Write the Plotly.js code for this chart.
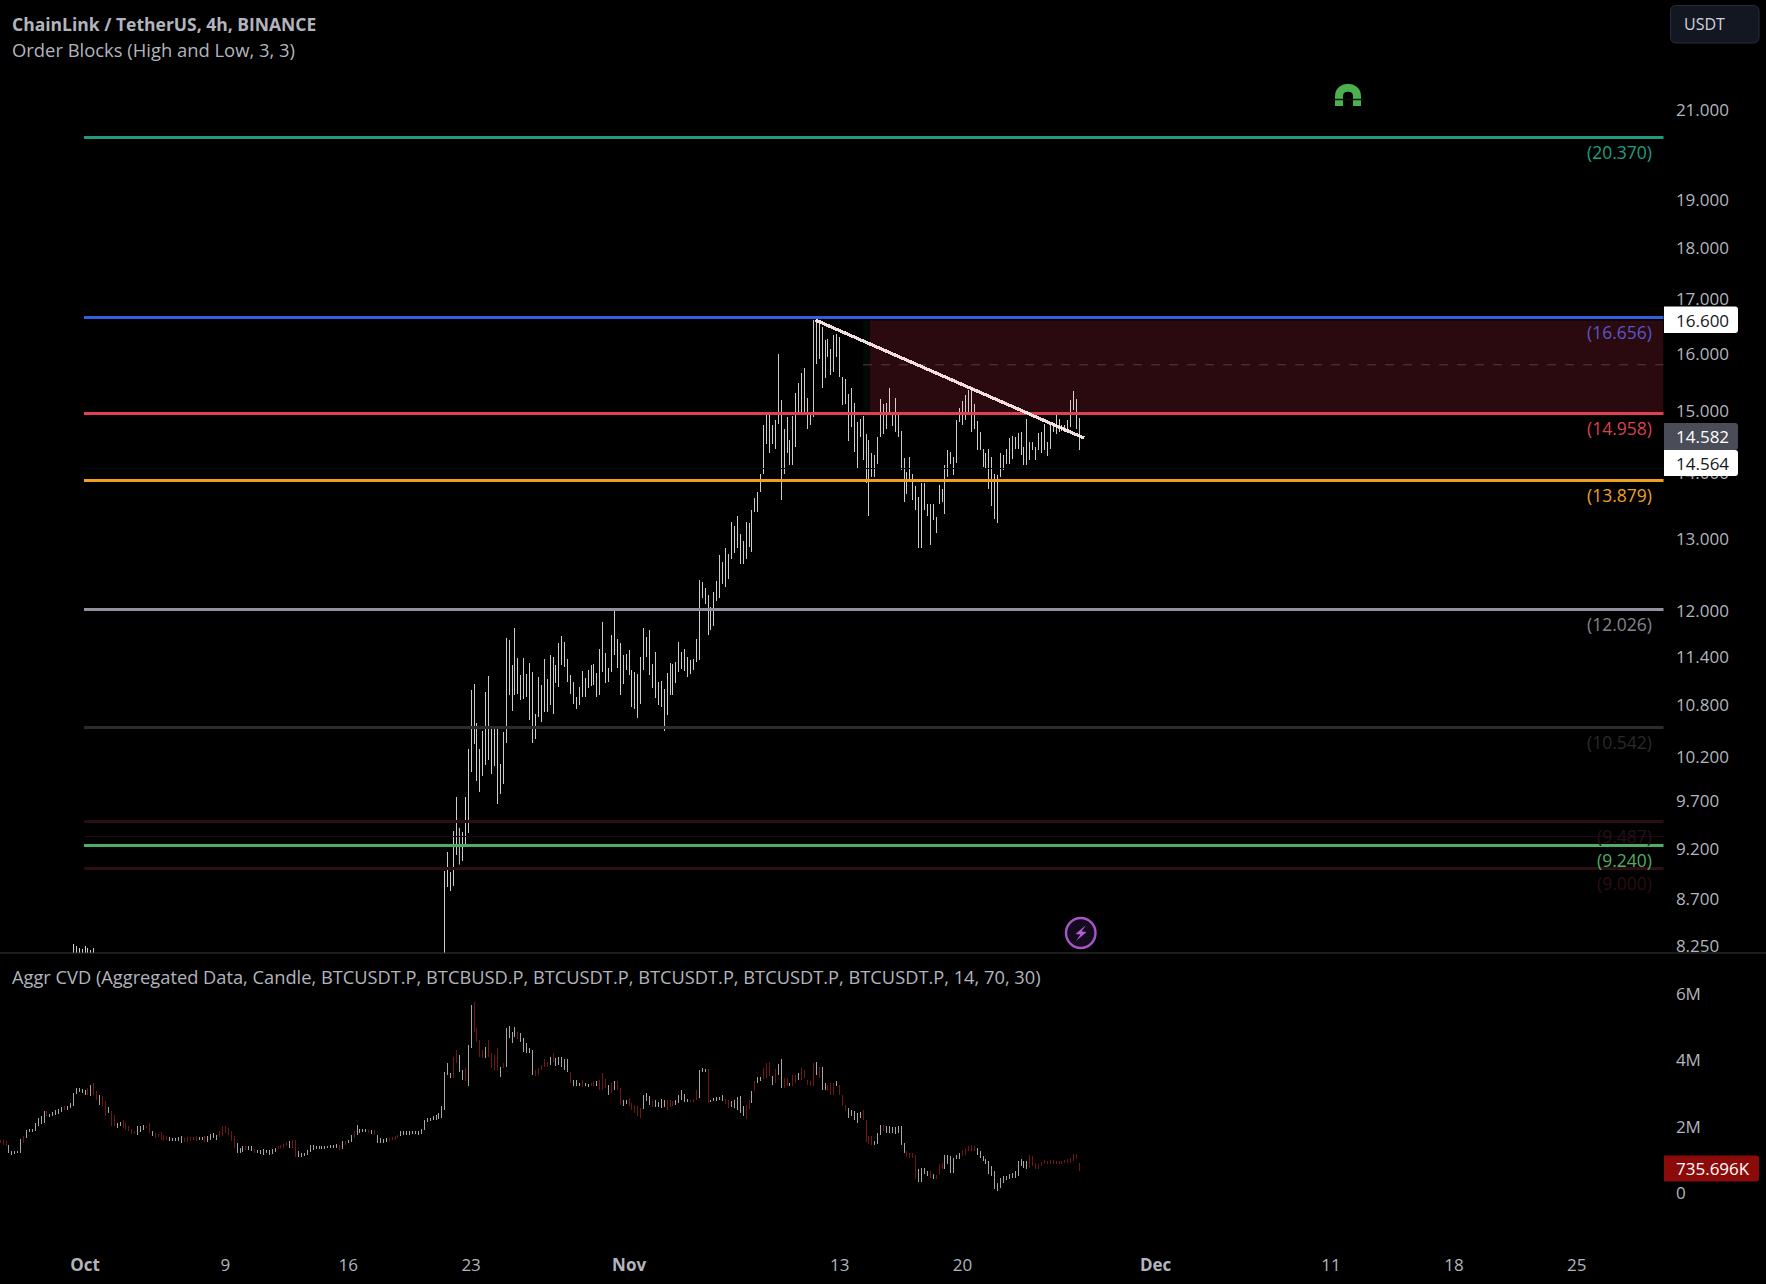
<!DOCTYPE html>
<html>
<head>
<meta charset="utf-8">
<script src="https://cdn.plot.ly/plotly-3.0.1.min.js"></script>
<style>html,body{margin:0;padding:0;background:#000;overflow:hidden}#chart{width:1766px;height:1284px}</style>
</head>
<body>
<div id="chart"></div>
<script>
// ---- data ----
const priceHigh = [8.98,9.17,8.97,9.39,9.75,9.42,9.38,9.75,10.29,10.99,11.06,10.59,10.29,10.49,10.96,11.16,10.56,10.55,10.52,10.11,
10.48,11.65,11.62,11.30,11.78,11.39,11.17,11.39,11.19,11.33,11.21,10.70,11.15,11.05,11.38,11.12,11.43,11.40,11.30,11.58,
11.67,11.59,11.38,11.17,11.09,10.90,11.03,11.22,11.13,11.24,11.30,11.31,11.20,11.50,11.86,11.45,11.26,11.68,12.02,11.63,
11.58,11.43,11.44,11.49,11.24,11.21,11.19,11.40,11.78,11.66,11.75,11.31,11.46,11.09,11.10,11.00,11.20,11.33,11.31,11.34,
11.59,11.47,11.50,11.40,11.36,11.38,11.63,12.43,12.40,12.32,12.22,12.06,12.26,12.41,12.77,12.67,12.87,12.79,13.25,13.19,
13.34,13.08,12.97,13.26,13.24,13.43,13.62,13.71,13.98,14.78,14.98,14.99,14.77,14.85,15.99,15.19,14.71,14.91,14.52,14.92,
15.31,15.49,15.65,15.74,15.22,14.96,16.61,16.61,16.55,16.49,16.24,16.27,16.09,16.33,16.36,16.30,15.59,15.56,15.29,15.39,
15.14,14.82,14.88,14.92,14.63,14.52,14.31,14.28,14.57,15.20,15.13,15.14,15.39,14.99,15.22,14.96,14.68,14.24,14.02,14.25,
13.99,13.80,13.63,13.84,13.84,13.53,13.53,13.52,13.33,13.81,13.76,14.12,14.36,14.34,14.25,14.85,15.05,15.18,15.28,15.36,
15.39,15.13,14.84,14.66,14.39,14.31,14.39,14.25,13.99,13.97,14.31,14.28,14.39,14.56,14.60,14.58,14.64,14.66,14.41,14.88,
14.49,14.49,14.41,14.64,14.66,14.79,14.49,14.77,14.79,14.96,14.88,14.77,14.78,14.86,15.19,15.35,15.21,14.89];
const priceLow = [7.90,8.82,8.78,8.83,9.14,9.04,9.08,9.22,9.36,10.03,10.34,9.92,9.80,9.98,10.10,10.16,10.00,10.09,9.67,9.78,
9.89,10.35,10.92,10.73,10.92,10.94,10.86,10.88,10.90,10.62,10.35,10.40,10.66,10.60,10.72,10.72,10.81,10.70,11.07,11.03,
11.30,11.27,11.09,10.94,10.82,10.76,10.80,10.90,10.90,11.01,11.04,11.05,10.90,10.92,11.21,11.07,11.09,11.21,11.43,11.26,
10.92,11.06,11.24,11.17,10.78,10.76,10.65,10.82,11.24,11.40,11.17,11.01,10.89,10.80,10.78,10.49,10.68,10.92,10.92,11.07,
11.21,11.25,11.22,11.15,11.19,11.23,11.34,11.36,12.17,12.10,11.68,11.75,11.80,12.13,12.17,12.37,12.33,12.44,12.72,12.80,
12.87,12.65,12.65,12.72,12.89,12.82,13.40,13.40,13.71,13.99,14.47,14.31,14.47,14.39,14.79,13.58,13.99,14.31,14.12,14.12,
14.41,14.97,14.96,14.96,14.71,14.77,14.91,15.82,15.91,15.39,15.57,15.94,15.62,15.67,15.94,15.59,15.10,15.13,14.51,14.74,
14.34,14.07,14.57,14.21,13.84,13.35,13.94,13.94,14.15,14.57,14.63,14.71,14.96,14.75,14.66,14.57,14.05,13.55,13.68,13.86,
13.58,13.43,12.87,12.87,13.43,13.35,12.92,13.28,13.09,13.53,13.55,13.38,13.94,14.15,13.97,14.16,14.82,14.77,14.85,14.96,
14.66,14.71,14.36,14.36,14.10,14.08,13.76,13.50,13.30,13.24,13.94,14.05,14.15,14.15,14.23,14.39,14.39,14.28,14.12,14.12,
14.20,14.36,14.20,14.36,14.31,14.36,14.27,14.39,14.66,14.63,14.66,14.68,14.66,14.68,14.74,15.02,14.71,14.36];
const earlyHigh = [8.27,8.25,8.24,8.23,8.25,8.24,8.22,8.24];
const earlyLow  = [8.05,8.06,8.04,8.05,8.07,8.05,8.04,8.06];

const cvdHigh = [1.61,1.59,1.56,1.46,1.26,1.26,1.26,1.63,1.73,1.89,1.93,1.93,2.11,2.26,2.31,2.46,2.46,2.39,2.43,2.49,
2.53,2.59,2.63,2.63,2.71,3.01,3.16,3.16,3.13,3.11,3.16,3.26,3.31,3.06,2.96,2.91,2.76,2.59,2.46,2.36,
2.11,2.13,2.19,2.11,2.01,1.93,1.86,2.01,2.03,2.06,2.03,2.11,1.88,1.81,1.79,1.83,1.76,1.71,1.68,1.66,
1.66,1.69,1.71,1.66,1.69,1.69,1.69,1.71,1.69,1.69,1.71,1.73,1.79,1.81,1.76,1.86,2.01,2.01,1.96,1.86,
1.71,1.51,1.36,1.41,1.43,1.41,1.41,1.33,1.31,1.31,1.33,1.31,1.31,1.33,1.36,1.43,1.46,1.49,1.53,1.56,
1.59,1.61,1.26,1.21,1.21,1.31,1.46,1.46,1.41,1.43,1.41,1.43,1.43,1.46,1.46,1.49,1.46,1.56,1.56,1.61,
1.76,1.86,2.06,1.93,1.93,1.93,1.91,1.89,1.91,1.76,1.66,1.63,1.66,1.66,1.69,1.71,1.76,1.86,1.86,1.86,
1.86,1.86,1.86,1.86,1.93,2.21,2.26,2.26,2.31,2.36,2.41,2.63,3.66,3.91,3.61,4.09,4.31,4.16,3.71,3.76,
4.46,5.66,5.76,4.96,4.61,4.31,4.41,4.61,4.21,4.16,4.36,3.81,3.91,4.96,5.03,4.86,5.01,4.86,4.81,4.66,
4.51,4.36,4.31,3.71,3.76,
3.86,4.03,3.96,4.09,4.23,4.06,4.11,4.11,4.03,4.03,3.66,3.39,3.39,3.31,3.39,3.31,3.29,3.31,3.36,3.38,
3.39,3.61,3.43,3.26,3.31,3.38,3.36,3.16,2.81,2.81,2.86,2.71,2.66,2.63,2.56,2.96,3.01,2.93,2.76,2.81,
2.73,2.83,2.81,2.81,2.81,2.76,2.81,2.96,3.09,2.99,2.83,2.81,2.83,3.09,3.71,3.76,3.74,3.73,2.81,2.86,
2.89,2.89,2.96,2.83,2.81,2.76,2.81,2.89,2.91,2.63,2.66,2.81,3.06,3.36,3.49,3.49,3.76,3.91,3.96,3.51,
3.73,3.89,4.03,3.46,3.46,3.31,3.56,3.56,3.63,3.76,3.71,3.41,3.36,3.91,3.96,3.81,3.81,3.31,3.26,3.31,
3.31,3.36,3.26,2.96,2.66,2.56,2.51,2.46,2.41,2.43,2.51,2.21,1.71,1.71,1.56,1.81,2.06,2.06,2.01,2.01,
1.99,1.99,2.03,2.03,1.51,1.26,1.21,1.21,1.16,0.71,0.76,0.76,0.66,0.66,0.56,0.53,0.86,0.89,1.13,1.16,
1.11,1.06,1.16,1.21,1.29,1.36,1.43,1.46,1.41,1.36,1.26,1.11,1.01,0.96,0.81,0.66,0.31,0.46,0.51,0.51,
0.56,0.61,0.66,0.96,1.01,0.96,0.96,1.16,1.11,0.91,0.86,0.93,0.98,0.96,0.98,0.99,0.96,0.96,0.96,0.98,
1.01,1.06,1.18,1.19,0.91];
const cvdLow = [1.51,1.46,1.41,1.21,1.16,1.19,1.21,1.21,1.51,1.66,1.83,1.85,1.86,2.01,2.09,2.11,2.31,2.29,2.33,2.36,
2.39,2.43,2.49,2.51,2.55,2.63,2.99,3.03,3.01,2.96,2.96,2.93,2.96,2.81,2.66,2.61,2.31,2.41,2.01,2.01,
1.96,2.01,1.96,1.91,1.86,1.79,1.79,1.76,1.83,1.91,1.96,1.81,1.71,1.66,1.69,1.61,1.56,1.59,1.56,1.56,
1.58,1.56,1.51,1.53,1.53,1.56,1.59,1.56,1.61,1.59,1.53,1.55,1.61,1.66,1.61,1.69,1.71,1.81,1.76,1.56,
1.36,1.21,1.21,1.23,1.31,1.31,1.26,1.21,1.21,1.19,1.16,1.21,1.16,1.19,1.23,1.33,1.36,1.36,1.41,1.36,
1.36,1.09,1.09,1.09,1.11,1.16,1.23,1.31,1.33,1.33,1.33,1.33,1.35,1.35,1.35,1.36,1.31,1.33,1.46,1.51,
1.53,1.66,1.76,1.81,1.83,1.83,1.81,1.79,1.76,1.51,1.51,1.51,1.53,1.56,1.59,1.61,1.66,1.71,1.76,1.76,
1.76,1.78,1.78,1.76,1.79,1.89,2.13,2.16,2.19,2.21,2.23,2.26,2.51,3.56,3.46,3.46,3.91,3.66,3.41,3.36,
3.23,4.36,4.86,4.56,4.11,4.06,4.06,4.11,3.76,3.71,3.71,3.49,3.76,3.81,4.66,4.51,4.71,4.63,4.56,4.26,
4.23,4.23,3.56,3.51,3.56,
3.71,3.81,3.81,3.86,3.96,3.83,3.86,3.81,3.71,3.66,3.31,3.21,3.21,3.21,3.19,3.21,3.19,3.23,3.23,3.21,
3.09,3.11,3.16,2.96,3.01,3.11,3.09,2.66,2.61,2.69,2.61,2.51,2.41,2.33,2.25,2.53,2.76,2.66,2.59,2.59,
2.59,2.56,2.59,2.51,2.59,2.63,2.66,2.71,2.81,2.73,2.73,2.73,2.73,2.79,2.86,3.66,3.64,2.71,2.73,2.76,
2.76,2.79,2.76,2.69,2.56,2.59,2.56,2.51,2.41,2.31,2.23,2.53,2.71,3.06,3.31,3.36,3.43,3.46,3.51,3.26,
3.31,3.56,3.16,3.16,3.21,3.21,3.21,3.31,3.41,3.41,3.46,3.26,3.23,3.21,3.56,3.46,3.11,3.11,3.06,2.96,
2.96,3.21,2.96,2.61,2.46,2.26,2.31,2.21,2.11,2.26,2.21,1.53,1.49,1.46,1.46,1.49,1.76,1.86,1.81,1.81,
1.81,1.79,1.81,1.46,1.21,1.09,1.06,1.06,0.41,0.33,0.33,0.56,0.51,0.46,0.41,0.41,0.53,0.71,0.71,0.86,
0.61,0.61,1.01,1.01,1.11,1.16,1.26,1.26,1.26,1.16,1.06,0.96,0.86,0.56,0.51,0.11,0.06,0.16,0.31,0.39,
0.41,0.46,0.46,0.51,0.81,0.76,0.71,0.76,0.81,0.71,0.71,0.81,0.86,0.86,0.86,0.86,0.88,0.86,0.86,0.89,
0.89,0.91,0.96,1.03,0.66];
const cvdDir = "rrrwwwwwrwwwwwwwrwwwwwrwwwwwwwrwrrwrrwrrwwrrrrrwwwrrwrrrrrwwwwwrrrrrwwrwwwwrrrrrrwwwrwwrwwwwwwwrrrrwrrwwwwwwwwwwwwwwrwrwwrwwwwrwrwwwwrrrrwwwwwwwwwwwwwwwwwwrrwwrwwrrrrwrrrrwrww"
 + "w"
 + "wrwwwwwrrrrrwrwwwwwrwwwrwwrrwrrrwrwrrwwrrrrrwwwrwwwwrrrwwwwwrrrwwwrwwwwwrrwwwwwrrwrwwrrrwrwwrrwrrwrrrrrwrwwrrrwrrrwwwwwrrrrwwwrwwwwwwwrrrrwwwwrwrrrwwwwwwrrrrrwwwwwwwwwwwwwwwwwwrr";

const levelValues = [20.370,16.656,14.958,14.07,13.879,12.026,10.542,9.487,9.33,9.240,9.000];
const levelLabels = ["(20.370)","(16.656)","(14.958)",null,"(13.879)","(12.026)","(10.542)","(9.487)",null,"(9.240)","(9.000)"];
const levelLineColors = ["#22987c","#3060dc","#e0414f","#07071a","#f0a020","#92929e","#2c2c2c","#2e0e16","#1c0a10","#4caf62","#2e0e16"];
const levelTextColors = ["#1f9e80","#5a55c8","#d8434f","#000","#f0a020","#85858f","#2a2a2a","#26101a","#000","#4caf62","#2a0d14"];
const levelWidths = [3,3,3,1,3,3,3,3,1,3,3];

const trendDates = ["2023-11-11T15:00:00Z","2023-11-26T22:00:00Z"];
const trendPrices = [16.61,14.56];
const blockTop = 16.60, blockBottom = 14.958, blockMid = 15.80;
const blockStart = "2023-11-14T17:30:00Z", blockEdgeStart = "2023-11-14T08:00:00Z";

const priceTickVals = [21,19,18,17,16,15,14,13,12,11.4,10.8,10.2,9.7,9.2,8.7,8.25];
const priceTickText = ["21.000","19.000","18.000","17.000","16.000","15.000","14.000","13.000","12.000","11.400","10.800","10.200","9.700","9.200","8.700","8.250"];
const cvdTickVals = [6,4,2,0];
const cvdTickText = ["6M","4M","2M","0"];
const dateTickVals = ["2023-10-01","2023-10-09","2023-10-16","2023-10-23","2023-11-01","2023-11-13","2023-11-20","2023-12-01","2023-12-11","2023-12-18","2023-12-25"];
const dateTickText = ["<b>Oct</b>","9","16","23","<b>Nov</b>","13","20","<b>Dec</b>","11","18","25"];

// ---- helpers ----
const W = 1766, H = 1284, HOUR4 = 4*3600*1000;
const px = x => x/W, py = y => 1-y/H;
const toIso = ms => new Date(ms).toISOString();
const cvdStart = Date.UTC(2023,8,26,4), priceStart = Date.UTC(2023,9,21,12), earlyStart = cvdStart + 25*HOUR4;
const axisStart = Date.UTC(2023,9,1) - 4.843*864e5, axisEnd = Date.UTC(2023,9,1) + 89.94*864e5;
const levelStart = Date.UTC(2023,9,1) - 0.05*864e5;

function segments(start, hi, lo, keep){
  const xs=[], ys=[];
  hi.forEach((h,i)=>{
    if(keep && !keep(i)) return;
    const t = toIso(start + i*HOUR4);
    xs.push(t,t,null); ys.push(lo[i],h,null);
  });
  return {xs,ys};
}
function box(x0,y0,x1,y1,r,fill,line,rl,rr){
  const a = px(x0), b = px(x1), dx = r/W, dy = r/H, t = py(y0), u = py(y1);
  const R = rr===false?0:1, L = rl===false?0:1;
  const path = `M ${a+L*dx} ${t} L ${b-R*dx} ${t} Q ${b} ${t} ${b} ${t-R*dy} L ${b} ${u+R*dy} Q ${b} ${u} ${b-R*dx} ${u} L ${a+L*dx} ${u} Q ${a} ${u} ${a} ${u+L*dy} L ${a} ${t-L*dy} Q ${a} ${t} ${a+L*dx} ${t} Z`;
  return {type:"path",xref:"paper",yref:"paper",path,fillcolor:fill,line:{color:line||fill,width:line?1:0},layer:"above"};
}
function note(text,x,y,size,color,anchor,extra){
  return Object.assign({text,xref:"paper",yref:"paper",x:px(x),y:py(y),xanchor:anchor||"left",yanchor:"middle",showarrow:false,
    font:{family:"'Open Sans',sans-serif",size,color}},extra||{});
}

// ---- traces ----
const traces = [];
const line = (xs,ys,color,width,axis) => ({type:"scatter",mode:"lines",x:xs,y:ys,yaxis:axis||"y",xaxis:"x",
  line:{color,width,simplify:false},connectgaps:false,hoverinfo:"skip",showlegend:false});

const early = segments(earlyStart, earlyHigh, earlyLow);
const main = segments(priceStart, priceHigh, priceLow);
traces.push(line(early.xs, early.ys, "#ffffff", 0.8));
traces.push(line(main.xs, main.ys, "#ffffff", 0.8));

levelValues.forEach((v,i)=>{
  traces.push(line([toIso(levelStart), toIso(axisEnd)],[v,v],levelLineColors[i],levelWidths[i]));
});
traces.push(line(trendDates,trendPrices,"rgba(255,236,236,0.94)",3.2));

const up = segments(cvdStart,cvdHigh,cvdLow,i=>cvdDir[i]==="w");
const down = segments(cvdStart,cvdHigh,cvdLow,i=>cvdDir[i]!=="w");
traces.push(line(down.xs,down.ys,"#8f1a1a",0.8,"y2"));
traces.push(line(up.xs,up.ys,"#cfcfcf",0.8,"y2"));

// ---- layout ----
const levelNotes = [];
levelValues.forEach((v,i)=>{
  if(!levelLabels[i]) return;
  levelNotes.push({text:levelLabels[i],xref:"paper",yref:"y",x:px(1654),y:Math.log10(v),yshift:-14.5,xanchor:"right",yanchor:"middle",
    showarrow:false,font:{family:"'Open Sans',sans-serif",size:17.5,color:levelTextColors[i]}});
});

const shapes = [
  {type:"rect",xref:"x",yref:"y",x0:blockEdgeStart,x1:blockStart,y0:blockBottom,y1:blockTop,fillcolor:"#020806",line:{width:0},layer:"below"},
  {type:"rect",xref:"x",yref:"y",x0:blockStart,x1:toIso(axisEnd),y0:blockBottom,y1:blockTop,fillcolor:"#2a0a0e",line:{width:0},layer:"below"},
  {type:"line",xref:"x",yref:"y",x0:blockEdgeStart,x1:toIso(axisEnd),y0:blockMid,y1:blockMid,line:{color:"#5e3a3e",width:1,dash:"dash"},layer:"below"},
  {type:"line",xref:"paper",yref:"paper",x0:0,x1:1,y0:py(953),y1:py(953),line:{color:"#3a3a3e",width:1},layer:"above"},
  box(1670.5,5.5,1759,43,6,"#131722","#2a2e39"),
  box(1664,306.5,1738,333,3,"#ffffff",null,false,true),
  box(1664,423,1738,450,3,"#4a4d58",null,false,true),
  box(1664,450,1738,476,3,"#ffffff",null,false,true),
  box(1664,1155.5,1759,1181.5,3,"#8b0b0b",null,false,true),
  // magnet icon
  {type:"path",xref:"paper",yref:"paper",layer:"above",line:{color:"#4caf50",width:8},fillcolor:"rgba(0,0,0,0)",
   path:`M ${px(1339)} ${py(106)} L ${px(1339)} ${py(96)} C ${px(1339)} ${py(85)} ${px(1357)} ${py(85)} ${px(1357)} ${py(96)} L ${px(1357)} ${py(106)}`},
  {type:"line",xref:"paper",yref:"paper",layer:"above",x0:px(1333),x1:px(1363),y0:py(99.5),y1:py(99.5),line:{color:"#061a0a",width:1.5}},
  // lightning icon
  {type:"circle",xref:"paper",yref:"paper",layer:"above",x0:px(1066),x1:px(1095.5),y0:py(918),y1:py(948),fillcolor:"#140a1e",line:{color:"#a855c8",width:2.4}},
  {type:"path",xref:"paper",yref:"paper",layer:"above",fillcolor:"#b95cd8",line:{width:0},
   path:`M ${px(1086)} ${py(925)} L ${px(1075.5)} ${py(934)} L ${px(1080.5)} ${py(934.5)} L ${px(1076)} ${py(941)} L ${px(1086.5)} ${py(932)} L ${px(1081.5)} ${py(931.5)} Z`}
];

const annotations = levelNotes.concat([
  note("<b>ChainLink / TetherUS, 4h, BINANCE</b>",10,24.5,17.5,"#b2b5be"),
  note("Order Blocks (High and Low, 3, 3)",10,50,18.4,"#b2b5be"),
  note("Aggr CVD (Aggregated Data, Candle, BTCUSDT.P, BTCBUSD.P, BTCUSDT.P, BTCUSDT.P, BTCUSDT.P, BTCUSDT.P, 14, 70, 30)",10,977,18.25,"#b2b5be"),
  note("USDT",1682,24.5,16,"#d1d4dc"),
  note("16.600",1674,320,17,"#131722"),
  note("14.582",1674,436.5,17,"#ffffff"),
  note("14.564",1674,463,17,"#131722"),
  note("735.696K",1674,1168.5,17,"#ffffff")
]);

const tickFont = {family:"'Open Sans',sans-serif",size:17,color:"#b2b5be"};
const layout = {
  width:W,height:H,margin:{l:0,r:0,t:0,b:0,pad:0},paper_bgcolor:"#000000",plot_bgcolor:"#000000",showlegend:false,
  xaxis:{type:"date",domain:[0,1663.5/W],anchor:"y2",range:[toIso(axisStart),toIso(axisEnd)],tickmode:"array",tickvals:dateTickVals,ticktext:dateTickText,
    showgrid:false,zeroline:false,showline:false,ticks:"outside",ticklen:16,tickcolor:"rgba(0,0,0,0)",tickfont:tickFont,tickangle:0},
  yaxis:{type:"log",domain:[1-953/H,1],range:[Math.log10(8.19),Math.log10(23.75)],side:"right",anchor:"x",tickmode:"array",tickvals:priceTickVals,ticktext:priceTickText,
    showgrid:false,zeroline:false,showline:false,ticks:"outside",ticklen:8,tickcolor:"rgba(0,0,0,0)",tickfont:tickFont},
  yaxis2:{domain:[1-1234/H,1-953/H],range:[-1.235,7.23],side:"right",anchor:"x",tickmode:"array",tickvals:cvdTickVals,ticktext:cvdTickText,
    showgrid:false,zeroline:false,showline:false,ticks:"outside",ticklen:8,tickcolor:"rgba(0,0,0,0)",tickfont:tickFont},
  shapes,annotations,hovermode:false
};
Plotly.newPlot("chart",traces,layout,{staticPlot:true,displayModeBar:false}).then(gd=>{
  // keep the thin candle strokes and horizontal levels on whole pixels, as in the reference
  const paths = gd.querySelectorAll(".scatterlayer .trace path.js-line");
  const trendIndex = 2 + levelValues.length;
  paths.forEach((p,i)=>{ if(i!==trendIndex) p.style.shapeRendering = "crispEdges"; });
});
</script>
</body>
</html>
